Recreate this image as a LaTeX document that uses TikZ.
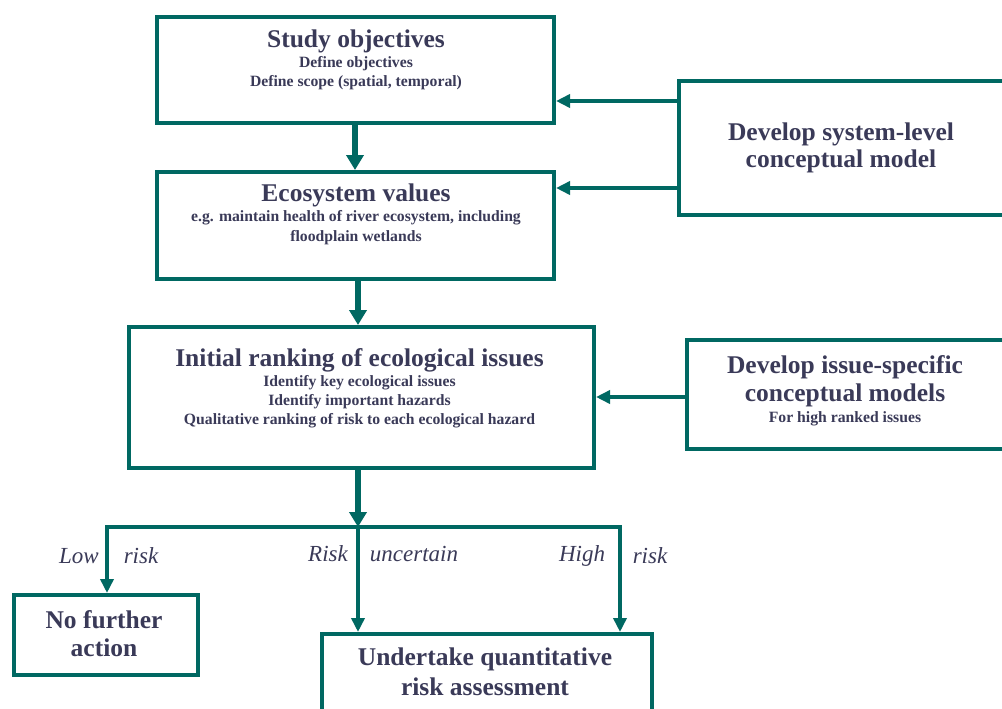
\documentclass[tikz,border=0pt]{standalone}
\usepackage{fontspec}
\newfontfamily\boxfont{Liberation Serif}
\usetikzlibrary{arrows.meta}
\definecolor{flowteal}{RGB}{0,104,98}
\definecolor{ink}{RGB}{58,58,88}
\tikzset{
  box/.style={draw=flowteal, line width=4pt, fill=white, anchor=north west, inner sep=0pt},
  title/.style={text=ink, font=\boxfont\bfseries\fontsize{25.5}{27}\selectfont, inner sep=0pt},
  sub/.style={text=ink, font=\boxfont\bfseries\fontsize{15.7}{17}\selectfont, inner sep=0pt},
  lbl/.style={text=ink, font=\boxfont\itshape\fontsize{23}{24}\selectfont, inner sep=0pt},
  mainarrow/.style={draw=flowteal, line width=6.5pt, -{Triangle[length=15pt,width=17pt]}},
  arr/.style={draw=flowteal, line width=4pt, -{Triangle[length=14pt,width=13pt]}},
  link/.style={draw=flowteal, line width=4pt},
}
\begin{document}
\begin{tikzpicture}[x=1pt,y=-1pt]
\clip (0,0) rectangle (1002,709);
\fill[white] (0,0) rectangle (1002,709);

% boxes
\node[box, minimum width=397pt, minimum height=106pt] (obj) at (155,15) {};
\node[box, minimum width=397pt, minimum height=107pt] (eco) at (155,170) {};
\node[box, minimum width=465pt, minimum height=141pt] (rank) at (127,325) {};
\node[box, minimum width=330pt, minimum height=134pt] (sys) at (677,79) {};
\node[box, minimum width=322pt, minimum height=109pt] (iss) at (685,338) {};
\node[box, minimum width=184pt, minimum height=80pt] (nfa) at (12,593) {};
\node[box, minimum width=330pt, minimum height=100pt] (qra) at (320,632) {};

% box texts
\node[title] (objt) at (356,41) {Study objectives};
\node[sub] (objs1) at (356,64) {Define objectives};
\node[sub] (objs2) at (356,83) {Define scope (spatial, temporal)};

\node[title] (ecot) at (356,195) {Ecosystem values};
\node[sub] (ecos1) at (356,218) {e.g. maintain health of river ecosystem, including};
\node[sub] (ecos2) at (356,238) {floodplain wetlands};

\node[title] (rankt) at (359.5,360) {Initial ranking of ecological issues};
\node[sub] (ranks1) at (359.5,383) {Identify key ecological issues};
\node[sub] (ranks2) at (359.5,402) {Identify important hazards};
\node[sub] (ranks3) at (359.5,421) {Qualitative ranking of risk to each ecological hazard};

\node[title] (syst1) at (841,134) {Develop system-level};
\node[title] (syst2) at (841,161) {conceptual model};

\node[title] (isst1) at (845,367) {Develop issue-specific};
\node[title] (isst2) at (845,395) {conceptual models};
\node[sub] (isss) at (845,419) {For high ranked issues};

\node[title] (nfat1) at (104,620) {No further};
\node[title] (nfat2) at (104,648) {action};

\node[title] (qrat1) at (485,659) {Undertake quantitative};
\node[title] (qrat2) at (485,687) {risk assessment};

% vertical flow
\draw[mainarrow] (obj.south -| 355,0) -- (eco.north -| 355,0);
\draw[mainarrow] (eco.south -| 358,0) -- (rank.north -| 358,0);

% feedback from conceptual models
\coordinate (y1) at (0,101);
\coordinate (y2) at (0,188);
\coordinate (y3) at (0,397);
\draw[arr] (sys.west |- y1) -- (obj.east |- y1);
\draw[arr] (sys.west |- y2) -- (eco.east |- y2);
\draw[arr] (iss.west |- y3) -- (rank.east |- y3);

% branching on risk
\coordinate (j) at (358,527);
\coordinate (jl) at (107,527);
\coordinate (jr) at (620,527);
\draw[link] ([xshift=-2pt]jl) -- ([xshift=2pt]jr);
\draw[mainarrow] (rank.south -| j) -- (j);
\draw[arr] (jl) -- (nfa.north -| jl);
\draw[arr] (j) -- (qra.north -| j);
\draw[arr] (jr) -- (qra.north -| jr);

% branch labels
\node[lbl] (l1) at (79,556) {Low};
\node[lbl] (l2) at (141,556) {risk};
\node[lbl] (l3) at (328,554) {Risk};
\node[lbl] (l4) at (414,554) {uncertain};
\node[lbl] (l5) at (582,556) {High};
\node[lbl] (l6) at (650,556) {risk};
\end{tikzpicture}
\end{document}
